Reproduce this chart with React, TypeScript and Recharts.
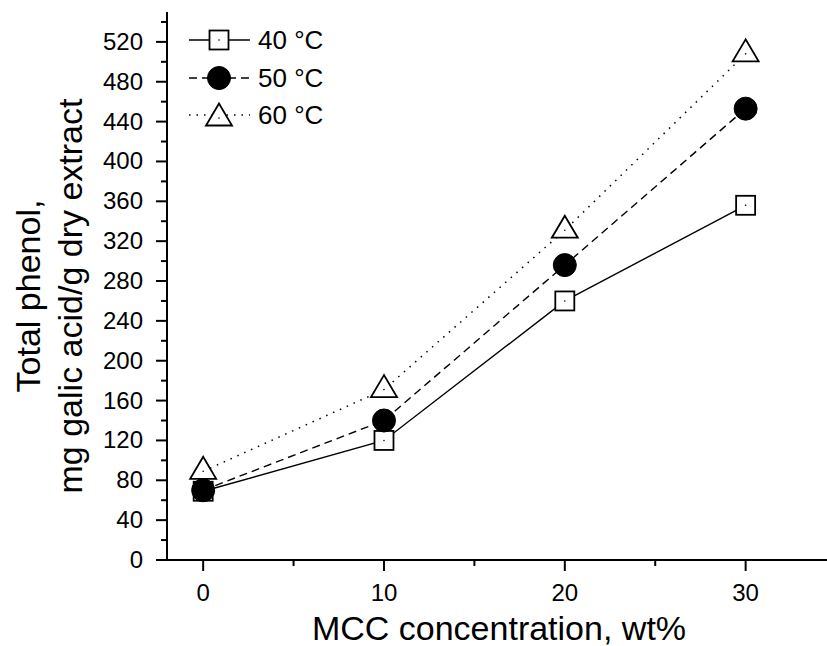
import React from 'react';
import { LineChart, Line, XAxis, YAxis, Customized } from 'recharts';

const mcc = [0, 10, 20, 30];
const t40 = [69, 120, 260, 356];
const t50 = [70, 140, 296, 453];
const t60 = [89, 171, 331, 508];
const xTicks = [0, 5, 10, 15, 20, 25, 30];
const xLabels = [0, 10, 20, 30];
const yTicks = [0, 20, 40, 60, 80, 100, 120, 140, 160, 180, 200, 220, 240, 260, 280, 300, 320, 340, 360, 380, 400, 420, 440, 460, 480, 500, 520, 540];
const yLabelStep = 40;
const seriesNames = ['40 °C', '50 °C', '60 °C'];

const data = mcc.map((x, i) => ({ x, a: t40[i], b: t50[i], c: t60[i] }));

const FONT = '"Liberation Sans", Arial, sans-serif';

const SquareMark = ({ cx, cy }: any) => (
  <g>
    <rect x={cx - 9.5} y={cy - 9.5} width={19} height={19} fill="#fff" stroke="#000" strokeWidth={1.8} />
    <circle cx={cx} cy={cy} r={0.8} fill="#000" />
  </g>
);
const CircleMark = ({ cx, cy }: any) => <circle cx={cx} cy={cy} r={11.5} fill="#000" stroke="#000" strokeWidth={1} />;
const TriMark = ({ cx, cy }: any) => (
  <g>
    <polygon
      points={`${cx},${cy - 14.5} ${cx - 13},${cy + 7.5} ${cx + 13},${cy + 7.5}`}
      fill="#fff"
      stroke="#000"
      strokeWidth={1.8}
      strokeLinejoin="miter"
    />
    <circle cx={cx} cy={cy} r={0.8} fill="#000" />
  </g>
);

const YTick = ({ x, y, payload }: any) => {
  const v = payload.value;
  const major = v % yLabelStep === 0;
  return (
    <g>
      <line x1={x - (major ? 11 : 6)} x2={x} y1={y} y2={y} stroke="#000" strokeWidth={2} />
      {major && (
        <text x={x - 24} y={y + 8} textAnchor="end" fontFamily={FONT} fontSize={24} fill="#000">
          {v}
        </text>
      )}
    </g>
  );
};

const XTick = ({ x, y, payload }: any) => {
  const v = payload.value;
  const major = xLabels.includes(v);
  return (
    <g>
      <line x1={x} x2={x} y1={y} y2={y + (major ? 11 : 6)} stroke="#000" strokeWidth={2} />
      {major && (
        <text x={x} y={y + 41} textAnchor="middle" fontFamily={FONT} fontSize={24} fill="#000">
          {v}
        </text>
      )}
    </g>
  );
};

const Titles = (props: any) => {
  const off = props.offset || { left: 167, top: 12, width: 660, height: 548 };
  const cxp = off.left + off.width / 2;
  const cyp = off.top + off.height / 2;
  const bottom = off.top + off.height;
  return (
    <g fontFamily={FONT} fill="#000">
      <text x={cxp + 2} y={bottom + 80} textAnchor="middle" fontSize={34}>
        MCC concentration, wt%
      </text>
      <text transform={`translate(40, ${cyp + 10}) rotate(-90)`} textAnchor="middle" fontSize={34}>
        Total phenol,
      </text>
      <text transform={`translate(82, ${cyp + 10}) rotate(-90)`} textAnchor="middle" fontSize={34}>
        mg galic acid/g dry extract
      </text>
    </g>
  );
};

const LegendBox = () => {
  const rows = [40, 78, 115];
  const dashes = [undefined, '8 5', '1.5 6'];
  const marks = [SquareMark, CircleMark, TriMark];
  return (
    <g>
      {rows.map((ry, i) => {
        const M = marks[i];
        return (
          <g key={i}>
            <line x1={189} x2={250} y1={ry} y2={ry} stroke="#000" strokeWidth={1.4} strokeDasharray={dashes[i]} />
            <M cx={219} cy={i === 2 ? ry + 3 : ry} />
            <text x={258} y={ry + 9} fontFamily={FONT} fontSize={26} fill="#000">
              {seriesNames[i]}
            </text>
          </g>
        );
      })}
    </g>
  );
};

export default function App() {
  return (
    <div style={{ position: 'absolute', left: 0, top: 0, width: 827, height: 646, background: '#fff' }}>
      <LineChart width={827} height={646} data={data} margin={{ top: 12, right: 0, bottom: 0, left: 0 }}>
        <XAxis
          xAxisId="top"
          orientation="top"
          dataKey="x"
          type="number"
          domain={[-2, 34.5]}
          height={0}
          tick={false}
          tickLine={false}
          axisLine={{ stroke: '#000', strokeWidth: 2 }}
        />
        <XAxis
          dataKey="x"
          type="number"
          domain={[-2, 34.5]}
          ticks={xTicks}
          height={86}
          tickSize={0}
          tickMargin={0}
          tickLine={false}
          tick={<XTick />}
          interval={0}
          axisLine={{ stroke: '#000', strokeWidth: 2 }}
        />
        <YAxis
          type="number"
          domain={[0, 550]}
          ticks={yTicks}
          width={167}
          tickSize={0}
          tickMargin={0}
          tickLine={false}
          tick={<YTick />}
          interval={0}
          axisLine={{ stroke: '#000', strokeWidth: 2 }}
        />
        <Line dataKey="a" stroke="#000" strokeWidth={1.4} dot={<SquareMark />} isAnimationActive={false} />
        <Line dataKey="b" stroke="#000" strokeWidth={1.4} strokeDasharray="8 5" dot={<CircleMark />} isAnimationActive={false} />
        <Line dataKey="c" stroke="#000" strokeWidth={1.5} strokeDasharray="1.5 6" dot={<TriMark />} isAnimationActive={false} />
        <Customized component={Titles} />
        <Customized component={LegendBox} />
      </LineChart>
    </div>
  );
}
